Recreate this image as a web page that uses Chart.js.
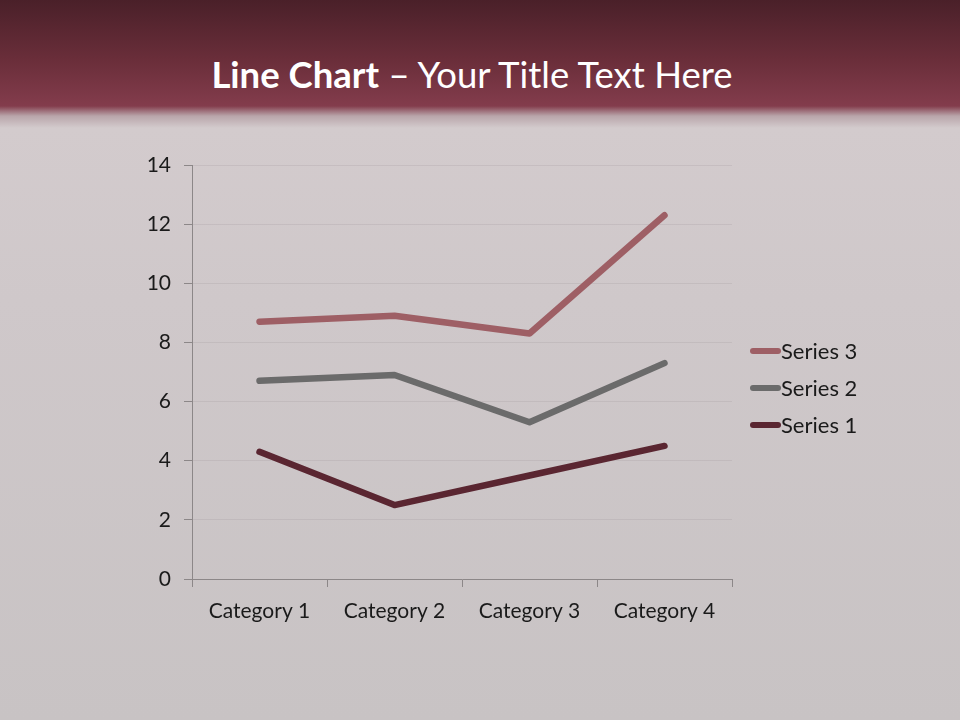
<!DOCTYPE html>
<html lang="en">
<head>
  <meta charset="UTF-8" />
  <title>Line Chart</title>
  <script src="https://cdn.jsdelivr.net/npm/chart.js"></script>
  <style>
    html, body {
      margin: 0;
      padding: 0;
    }

    #slide {
      position: relative;
      width: 960px;
      height: 720px;
      overflow: hidden;
      font-family: Lato, "Open Sans", sans-serif;
      background: linear-gradient(to bottom,
        #4a2029 0px,
        #6a2e3a 60px,
        #833c4c 106px,
        #b9a5aa 116px,
        #d3cbcd 128px,
        #cfc8ca 300px,
        #c8c3c4 720px);
    }

    #title {
      position: absolute;
      top: 50px;
      left: 0;
      width: 944px;
      text-align: center;
      color: #fff;
      font-size: 36.5px;
      line-height: 48px;
      margin: 0;
      font-weight: normal;
    }

    #title b { font-weight: 700; }

    #chartCanvas {
      position: absolute;
      left: 0;
      top: 0;
    }

    #legend {
      position: absolute;
      left: 750px;
      top: 332px;
      font-size: 22px;
      color: #1a1a1a;
    }

    .legend-item {
      display: flex;
      align-items: center;
      height: 37px;
      line-height: 26px;
    }

    .legend-line {
      display: inline-block;
      width: 31px;
      height: 6px;
      border-radius: 3px;
    }
  </style>
</head>
<body>
  <div id="slide">
    <h1 id="title"><b>Line Chart</b> – Your Title Text Here</h1>
    <canvas id="chartCanvas" width="960" height="720"></canvas>
    <div id="legend"></div>
  </div>

  <script>
    // -------------------------------------------------------------------
    // Data
    // -------------------------------------------------------------------
    const categories = ['Category 1', 'Category 2', 'Category 3', 'Category 4'];
    const seriesNames = ['Series 1', 'Series 2', 'Series 3'];
    const series1 = [4.3, 2.5, 3.5, 4.5];
    const series2 = [6.7, 6.9, 5.3, 7.3];
    const series3 = [8.7, 8.9, 8.3, 12.3];
    const seriesColors = ['#5a2631', '#6b6b6b', '#9e5f65'];
    const yMin = 0;
    const yMax = 14;
    const yStep = 2;

    const allValues = [series1, series2, series3];

    const datasets = seriesNames.map(function (name, i) {
      return {
        label: name,
        data: allValues[i],
        borderColor: seriesColors[i],
        backgroundColor: seriesColors[i],
        borderWidth: 6.5,
        borderCapStyle: 'round',
        borderJoinStyle: 'round',
        pointRadius: 0,
        pointHoverRadius: 0,
        tension: 0,
        fill: false
      };
    });

    // HTML legend, reversed like the original (Series 3 on top)
    const legendEl = document.getElementById('legend');
    for (let i = seriesNames.length - 1; i >= 0; i--) {
      const item = document.createElement('div');
      item.className = 'legend-item';
      const swatch = document.createElement('span');
      swatch.className = 'legend-line';
      swatch.style.background = seriesColors[i];
      const text = document.createElement('span');
      text.textContent = seriesNames[i];
      item.appendChild(swatch);
      item.appendChild(text);
      legendEl.appendChild(item);
    }

    const axisColor = '#8c8788';
    const tickFont = { family: 'Lato, "Open Sans", sans-serif', size: 21 };

    new Chart(document.getElementById('chartCanvas').getContext('2d'), {
      type: 'line',
      data: { labels: categories, datasets: datasets },
      options: {
        responsive: false,
        animation: false,
        events: [],
        layout: {
          padding: { left: 140, right: 228, top: 165, bottom: 81 }
        },
        plugins: {
          legend: { display: false },
          title: { display: false },
          tooltip: { enabled: false }
        },
        scales: {
          x: {
            offset: true,
            grid: {
              offset: true,
              drawOnChartArea: false,
              drawTicks: true,
              tickLength: 8,
              tickColor: axisColor
            },
            border: { color: axisColor, width: 1 },
            ticks: { color: '#1a1a1a', font: tickFont, padding: 12 },
            afterFit: function (scale) { scale.height = 60; }
          },
          y: {
            min: yMin,
            max: yMax,
            grid: {
              color: 'rgba(150, 140, 143, 0.2)',
              drawTicks: true,
              tickLength: 8,
              tickColor: axisColor
            },
            border: { color: axisColor, width: 1 },
            ticks: {
              stepSize: yStep,
              color: '#1a1a1a',
              font: tickFont,
              padding: 13
            },
            afterFit: function (scale) { scale.width = 52; }
          }
        }
      }
    });
  </script>
</body>
</html>
